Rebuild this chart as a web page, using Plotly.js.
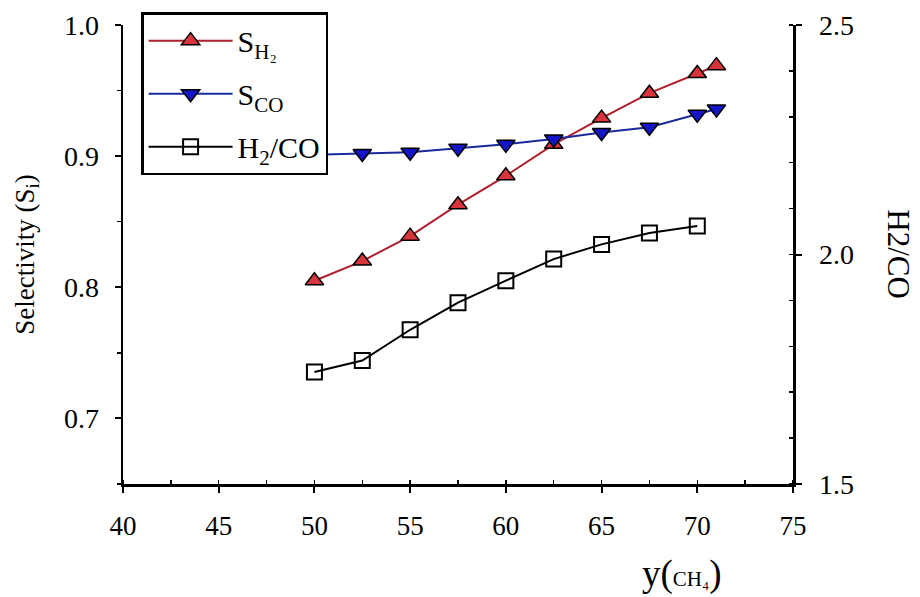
<!DOCTYPE html>
<html>
<head>
<meta charset="utf-8">
<script src="https://cdn.plot.ly/plotly-3.0.1.min.js"></script>
<style>html,body{margin:0;padding:0;background:#fff;}#chart{width:920px;height:597px;}</style>
</head>
<body>
<div id="chart"></div>
<script>
// Data
const xH2 = [50, 52.5, 55, 57.5, 60, 62.5, 65, 67.5, 70, 71];
const sH2 = [0.805, 0.820, 0.839, 0.863, 0.885, 0.909, 0.929, 0.948, 0.963, 0.969];
const xCO = [50, 52.5, 55, 57.5, 60, 62.5, 65, 67.5, 70, 71];
const sCO = [0.901, 0.902, 0.903, 0.906, 0.909, 0.913, 0.918, 0.922, 0.932, 0.936];
const xRatio = [50, 52.5, 55, 57.5, 60, 62.5, 65, 67.5, 70];
const ratio = [1.744, 1.769, 1.836, 1.895, 1.943, 1.990, 2.022, 2.047, 2.062];
const xTicks = [40, 45, 50, 55, 60, 65, 70, 75];
const yLeftTicks = [0.7, 0.8, 0.9, 1.0];
const yRightTicks = [1.5, 2.0, 2.5];

const serif = "Liberation Serif";

const traces = [
  {
    x: xH2, y: sH2, type: 'scatter', mode: 'lines+markers', name: 'S<sub>H₂</sub>',
    legendgroup: 'a',
    line: {color: '#b0202c', width: 2},
    marker: {symbol: 'triangle-up', size: 16, color: '#d8343c', line: {color: '#000', width: 1.5}}
  },
  {
    x: xCO, y: sCO, type: 'scatter', mode: 'lines+markers', name: 'S<sub>CO</sub>',
    legendgroup: 'b',
    line: {color: '#1a2a9a', width: 2},
    marker: {symbol: 'triangle-down', size: 16, color: '#1515c8', line: {color: '#000', width: 1.5}}
  },
  {
    x: xRatio, y: ratio, type: 'scatter', mode: 'lines+markers', name: 'H<sub>2</sub>/CO',
    legendgroup: 'c', yaxis: 'y2',
    line: {color: '#000', width: 2},
    marker: {symbol: 'square-open', size: 15, color: '#000', line: {color: '#000', width: 2}}
  }
];

const layout = {
  width: 920, height: 597,
  margin: {l: 123, r: 127, t: 23, b: 113},
  paper_bgcolor: '#fff', plot_bgcolor: '#fff',
  font: {family: serif, color: '#000', size: 24},
  showlegend: true,
  legend: {
    x: 0.027, y: 1.028, xanchor: 'left', yanchor: 'top',
    bgcolor: '#fff', bordercolor: '#000', borderwidth: 2.5,
    font: {family: serif, size: 30, color: '#000'},
    traceorder: 'grouped', tracegroupgap: 11, itemwidth: 84
  },
  xaxis: {
    range: [40, 75], tickvals: xTicks, ticktext: xTicks.map(String),
    showgrid: false, zeroline: false, showline: true, linecolor: '#000', linewidth: 2.5,
    ticks: 'outside', ticklen: 6, tickwidth: 2, tickcolor: '#000', ticklabelstandoff: 10,
    minor: {dtick: 2.5, ticks: 'inside', ticklen: 4, tickwidth: 1.5, tickcolor: '#000', showgrid: false},
    tickfont: {family: serif, size: 27, color: '#000'},
    fixedrange: true
  },
  yaxis: {
    range: [0.65, 1.0], tickvals: yLeftTicks, ticktext: yLeftTicks.map(v => v.toFixed(1)),
    showgrid: false, zeroline: false, showline: true, linecolor: '#000', linewidth: 2.5,
    ticks: 'outside', ticklen: 6, tickwidth: 2, tickcolor: '#000', ticklabelstandoff: 10,
    minor: {dtick: 0.05, ticks: 'outside', ticklen: 4, tickwidth: 1.5, tickcolor: '#000', showgrid: false},
    tickfont: {family: serif, size: 28, color: '#000'},
    title: {text: 'Selectivity (S<sub>i</sub>)', font: {family: serif, size: 27, color: '#000'}, standoff: 22},
    fixedrange: true
  },
  yaxis2: {
    overlaying: 'y', side: 'right', anchor: 'x',
    range: [1.5, 2.5], tickvals: yRightTicks, ticktext: yRightTicks.map(v => v.toFixed(1)),
    showgrid: false, zeroline: false, showline: true, linecolor: '#000', linewidth: 2.5,
    ticks: 'outside', ticklen: 6, tickwidth: 2, tickcolor: '#000', ticklabelstandoff: 12,
    minor: {dtick: 0.1, ticks: 'inside', ticklen: 4, tickwidth: 1.5, tickcolor: '#000', showgrid: false},
    tickfont: {family: serif, size: 28, color: '#000'},
    fixedrange: true
  },
  annotations: [
    {
      xref: 'paper', yref: 'paper', x: 1.157, y: 0.5, xanchor: 'center', yanchor: 'middle',
      text: 'H2/CO', textangle: 90, showarrow: false,
      font: {family: serif, size: 31, color: '#000'}
    },
    {
      xref: 'paper', yref: 'paper', x: 0.835, y: -0.195, xanchor: 'center', yanchor: 'middle',
      text: 'y(<span style="font-size:21px">CH₄</span>)', showarrow: false,
      font: {family: serif, size: 37, color: '#000'}
    }
  ]
};

Plotly.newPlot('chart', traces, layout, {staticPlot: true, displayModeBar: false});
</script>
</body>
</html>
